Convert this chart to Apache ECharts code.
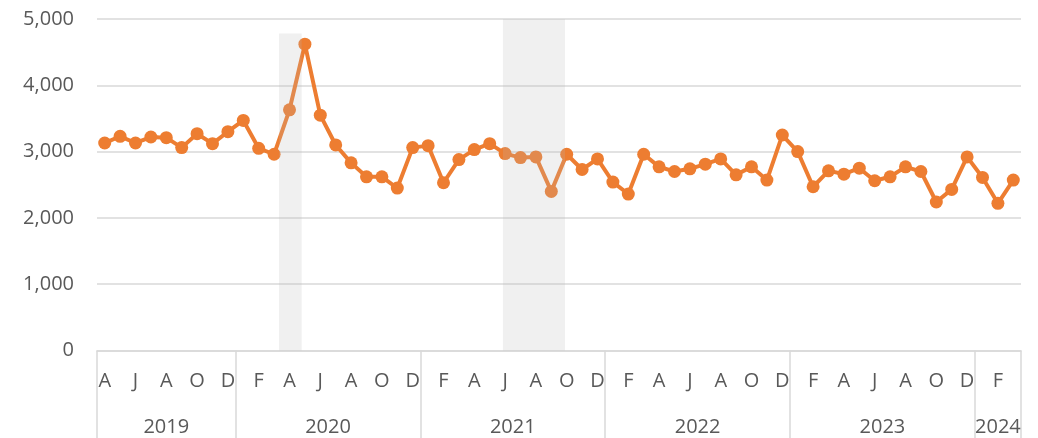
<!DOCTYPE html>
<html>
<head>
<meta charset="utf-8">
<script src="https://cdn.jsdelivr.net/npm/echarts@6/dist/echarts.min.js"></script>
<style>
  html, body { margin: 0; padding: 0; background: #fff; }
  #chart { width: 1038px; height: 438px; }
</style>
</head>
<body>
<div id="chart"></div>
<script>
// month initials, Apr 2019 .. Mar 2024
var months = [
  'A','M','J','J','A','S','O','N','D',
  'J','F','M','A','M','J','J','A','S','O','N','D',
  'J','F','M','A','M','J','J','A','S','O','N','D',
  'J','F','M','A','M','J','J','A','S','O','N','D',
  'J','F','M','A','M','J','J','A','S','O','N','D',
  'J','F','M'
];

var values = [
  3130, 3230, 3130, 3220, 3210, 3060, 3270, 3120, 3300,
  3470, 3050, 2960, 3630, 4620, 3550, 3100, 2830, 2620, 2620, 2450, 3060,
  3090, 2530, 2880, 3030, 3120, 2970, 2910, 2920, 2400, 2960, 2730, 2890,
  2540, 2360, 2960, 2770, 2700, 2740, 2810, 2890, 2650, 2770, 2570, 3250,
  3000, 2470, 2710, 2660, 2750, 2560, 2620, 2770, 2700, 2240, 2430, 2920,
  2610, 2220, 2570
];

// year groups on a 0..60 month scale
var years = ['2019', '2020', '2021', '2022', '2023', '2024'];
var yearCenters = [4.5, 15, 27, 39, 51, 58.5];
var yearBounds = [0, 9, 21, 33, 45, 57, 60];

// shaded bands: [start, end, top]
var shades = [
  [11.82, 13.29, 4780],
  [26.36, 30.39, 5000]
];

var yTicks = [0, 1000, 2000, 3000, 4000, 5000];

var font = '"Open Sans", "Liberation Sans", sans-serif';
var textColor = '#595959';
var gridColor = '#D9D9D9';

var chart = echarts.init(document.getElementById('chart'));

var option = {
  animation: false,
  grid: { left: 97, right: 17, top: 19, bottom: 87.5 },
  xAxis: [{
    type: 'category',
    data: months,
    boundaryGap: true,
    axisLine: { show: true, lineStyle: { color: gridColor, width: 1.5 } },
    axisTick: { show: false },
    axisLabel: {
      interval: 1,
      margin: 21,
      color: textColor,
      fontFamily: font,
      fontSize: 20
    },
    splitLine: { show: false }
  }, {
    type: 'value',
    min: 0,
    max: 60,
    position: 'bottom',
    axisLine: { show: false },
    axisTick: {
      show: true,
      customValues: yearBounds,
      length: 88,
      lineStyle: { color: gridColor, width: 1.5 }
    },
    axisLabel: {
      show: true,
      customValues: yearCenters,
      margin: 67,
      color: textColor,
      fontFamily: font,
      fontSize: 20,
      formatter: function (v) {
        var i = yearCenters.indexOf(v);
        return i >= 0 ? years[i] : '';
      }
    },
    splitLine: { show: false }
  }],
  yAxis: {
    type: 'value',
    min: yTicks[0],
    max: yTicks[yTicks.length - 1],
    interval: 1000,
    axisLine: { show: false },
    axisTick: { show: false },
    axisLabel: {
      margin: 23,
      color: textColor,
      fontFamily: font,
      fontSize: 20,
      formatter: function (v) { return v.toLocaleString('en-US'); }
    },
    splitLine: { lineStyle: { color: gridColor, width: 1.5 } }
  },
  series: [{
    type: 'line',
    xAxisIndex: 0,
    data: values,
    z: 2,
    symbol: 'circle',
    symbolSize: 13,
    showAllSymbol: true,
    lineStyle: { color: '#ED7D31', width: 4 },
    itemStyle: { color: '#ED7D31' },
    emphasis: { disabled: true }
  }, {
    type: 'custom',
    xAxisIndex: 1,
    z: 5,
    silent: true,
    data: shades,
    renderItem: function (params, api) {
      var p0 = api.coord([api.value(0), api.value(2)]);
      var p1 = api.coord([api.value(1), 0]);
      return {
        type: 'rect',
        shape: { x: p0[0], y: p0[1], width: p1[0] - p0[0], height: p1[1] - p0[1] },
        style: { fill: 'rgba(184,184,184,0.21)' }
      };
    }
  }]
};

chart.setOption(option);
</script>
</body>
</html>
